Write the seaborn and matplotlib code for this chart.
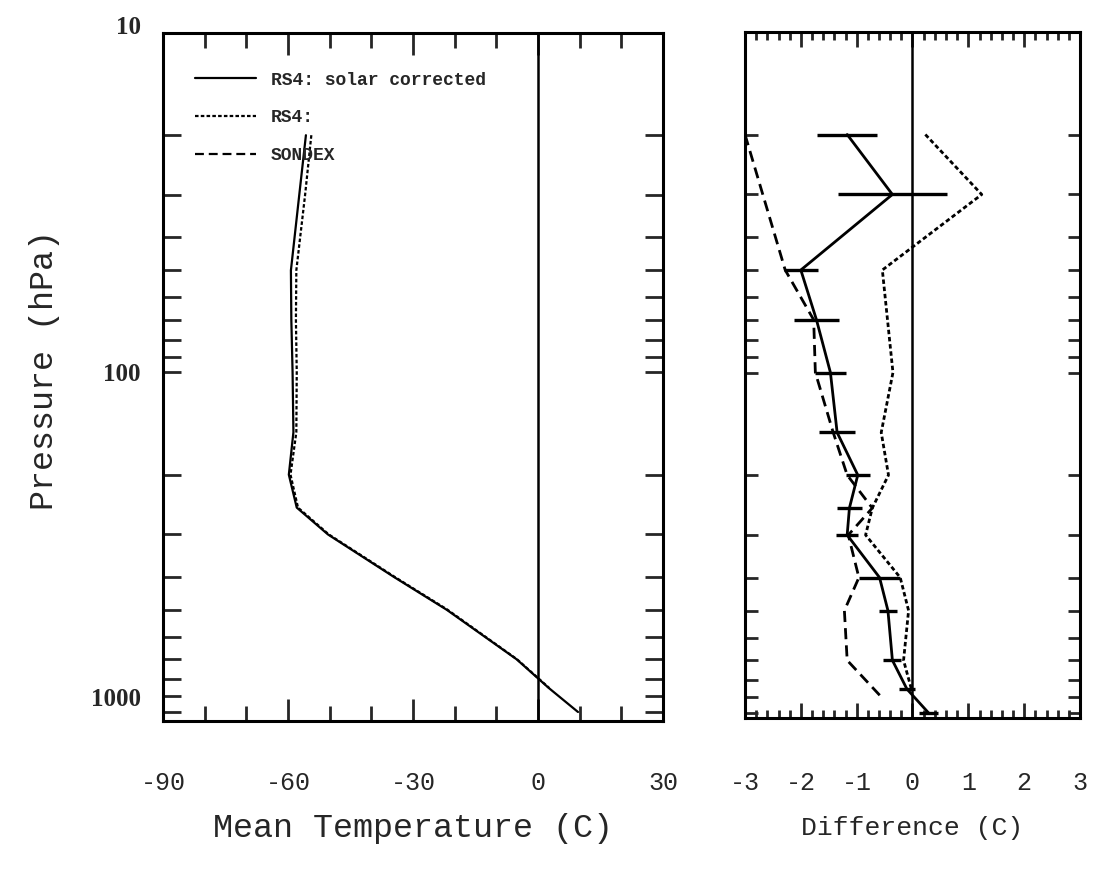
import numpy as np
import pandas as pd
import matplotlib
matplotlib.use("Agg")
import matplotlib.pyplot as plt
import seaborn as sns
from matplotlib import font_manager as fm
from matplotlib.lines import Line2D
from matplotlib.ticker import FixedLocator, NullFormatter
import matplotlib.transforms as mtransforms

# ---------------- data ----------------
# Left panel: mean temperature profiles (C) vs pressure (hPa)
p_temp = [20, 30, 50, 70, 100, 150, 200, 250, 300, 400, 500, 700, 850, 1000]
t_rs4_corr = [-55.7, -57.3, -59.3, -59.2, -58.9, -58.7, -59.8, -57.9, -50.4, -34.6, -21.9, -5.1, 2.6, 9.6]
p_temp_rs4 = [20, 30, 50, 70, 100, 150, 200, 250, 300, 400, 500, 700, 850]
t_rs4 = [-54.4, -55.9, -58.0, -58.1, -57.9, -58.0, -59.4, -57.6, -50.2, -34.4, -21.7, -5.0, 2.7]

# Right panel: differences (C)
p_diff_corr = [20, 30, 50, 70, 100, 150, 200, 250, 300, 400, 500, 700, 850, 1000]
d_rs4_corr = [-1.17, -0.36, -2.00, -1.72, -1.47, -1.35, -0.98, -1.13, -1.17, -0.59, -0.44, -0.36, -0.10, 0.29]
err_rs4_corr = [0.54, 0.98, 0.31, 0.40, 0.27, 0.32, 0.22, 0.23, 0.20, 0.37, 0.16, 0.16, 0.14, 0.17]

p_diff_rs4 = [20, 30, 50, 100, 150, 200, 250, 300, 400, 500, 700, 850]
d_rs4 = [0.23, 1.24, -0.54, -0.35, -0.56, -0.43, -0.72, -0.84, -0.22, -0.07, -0.16, -0.02]

p_diff_sondex = [20, 50, 70, 100, 150, 200, 250, 300, 400, 500, 700, 900]
d_sondex = [-3.00, -2.28, -1.77, -1.74, -1.42, -1.17, -0.72, -1.15, -0.96, -1.22, -1.17, -0.55]

legend_labels = ["RS4: solar corrected", "RS4:", "SONDEX"]
temp_ticks = [-90, -60, -30, 0, 30]
diff_ticks = [-3, -2, -1, 0, 1, 2, 3]
p_major = [10, 100, 1000]
p_minor = [20, 30, 40, 50, 60, 70, 80, 90, 200, 300, 400, 500, 600, 700, 800, 900]

# ---------------- fonts ----------------
avail = {f.name for f in fm.fontManager.ttflist}
def pick(*names):
    for n in names:
        if n in avail:
            return n
    return "DejaVu Sans"

MONO = pick("Liberation Mono", "DejaVu Sans Mono")
SERIF = pick("Liberation Serif", "DejaVu Serif")
NARROW = pick("Liberation Sans Narrow", "Liberation Mono", "DejaVu Sans Mono")

sns.set_style("white")
plt.rcParams["font.family"] = [SERIF, "DejaVu Sans"]

SOLID = "-"
DOTTED = (0, (1.6, 1.0))
DASHED = (0, (4.0, 2.2))

fig = plt.figure(figsize=(11.01, 8.76), dpi=100)
ax1 = fig.add_axes([163 / 1101, 1 - 721 / 876, 500 / 1101, 688 / 876])
ax2 = fig.add_axes([745 / 1101, 1 - 718 / 876, 335 / 1101, 686 / 876])

for ax in (ax1, ax2):
    ax.set_yscale("log")

df_left = pd.DataFrame({"T": t_rs4_corr, "p": p_temp})
df_left2 = pd.DataFrame({"T": t_rs4, "p": p_temp_rs4})
sns.lineplot(data=df_left, x="T", y="p", sort=False, estimator=None,
             color="black", lw=1.6, ax=ax1)
sns.lineplot(data=df_left2, x="T", y="p", sort=False, estimator=None,
             color="black", lw=1.6, linestyle=DOTTED, ax=ax1)

df_c = pd.DataFrame({"d": d_rs4_corr, "p": p_diff_corr, "e": err_rs4_corr})
df_r = pd.DataFrame({"d": d_rs4, "p": p_diff_rs4})
df_s = pd.DataFrame({"d": d_sondex, "p": p_diff_sondex})
sns.lineplot(data=df_c, x="d", y="p", sort=False, estimator=None,
             color="black", lw=2.0, ax=ax2)
ax2.errorbar(df_c["d"], df_c["p"], xerr=df_c["e"], fmt="none",
             ecolor="black", elinewidth=2.4, capsize=0)
sns.lineplot(data=df_r, x="d", y="p", sort=False, estimator=None,
             color="black", lw=2.0, linestyle=DOTTED, ax=ax2)
sns.lineplot(data=df_s, x="d", y="p", sort=False, estimator=None,
             color="black", lw=2.0, linestyle=DASHED, ax=ax2)

for ax in (ax1, ax2):
    ax.axvline(0, color="black", lw=1.8, zorder=1)

ax1.set_xlim(-90, 30)
ax1.set_ylim(1063, 10)
ax2.set_xlim(-3, 3)
ax2.set_ylim(1034, 10)

# ticks
for ax in (ax1, ax2):
    ax.yaxis.set_major_locator(FixedLocator(p_major))
    ax.yaxis.set_minor_locator(FixedLocator(p_minor))
    ax.yaxis.set_minor_formatter(NullFormatter())
    for s in ax.spines.values():
        s.set_linewidth(2.2)
        s.set_color("black")
        s.set_visible(True)

ax1.set_yticks(p_major, ["10", "100", "1000"])
ax2.set_yticks(p_major, ["", "", ""])

ax1.set_xticks(temp_ticks, [str(v) for v in temp_ticks])
ax1.set_xticks(np.arange(-80, 30, 10), minor=True)
ax2.set_xticks(diff_ticks, [str(v) for v in diff_ticks])
ax2.set_xticks(np.arange(-3, 3.001, 0.2), minor=True)

ax1.tick_params(axis="y", which="both", direction="in", left=True, right=True,
                length=13, width=2, pad=16, labelsize=18)
ax2.tick_params(axis="y", which="both", direction="in", left=True, right=True,
                length=9, width=2, labelleft=False)
ax1.tick_params(axis="x", which="major", direction="in", top=True, bottom=True,
                length=16, width=2, pad=36, labelsize=18)
ax1.tick_params(axis="x", which="minor", direction="in", top=True, bottom=True,
                length=11, width=2)
ax2.tick_params(axis="x", which="major", direction="in", top=True, bottom=True,
                length=11, width=2, pad=38, labelsize=18)
ax2.tick_params(axis="x", which="minor", direction="in", top=True, bottom=True,
                length=6, width=2)

for lbl in ax1.get_yticklabels():
    lbl.set_fontfamily(SERIF)
    lbl.set_fontweight("bold")
for ax in (ax1, ax2):
    for lbl in ax.get_xticklabels():
        lbl.set_fontfamily(NARROW)

# nudge 10 and 1000 labels upward as in the reference
ticks = ax1.yaxis.get_major_ticks()
offs = {0: 6 / 72, 2: 11 / 72}
for i, dy in offs.items():
    t = ticks[i].label1
    t.set_transform(t.get_transform() + mtransforms.ScaledTranslation(0, dy, fig.dpi_scale_trans))

# axis labels
ax1.set_xlabel("Mean Temperature (C)", fontfamily=MONO, fontsize=24, va="center")
ax1.xaxis.set_label_coords(0.5, -0.156)
ax2.set_xlabel("Difference (C)", fontfamily=MONO, fontsize=19, va="center")
ax2.xaxis.set_label_coords(0.5, -0.16)
ax1.set_ylabel("Pressure (hPa)", fontfamily=MONO, fontsize=24, va="center")
ax1.yaxis.set_label_coords(-0.236, 0.51)
ax2.set_ylabel("")

# legend
handles = [Line2D([], [], color="black", lw=1.6, linestyle=SOLID),
           Line2D([], [], color="black", lw=1.6, linestyle=DOTTED),
           Line2D([], [], color="black", lw=1.6, linestyle=DASHED)]
leg = ax1.legend(handles, legend_labels, loc="upper left",
                 bbox_to_anchor=(0.064, 0.944), frameon=False,
                 prop={"family": MONO, "weight": "bold", "size": 13},
                 handlelength=3.4, handletextpad=0.8, labelspacing=1.15,
                 borderpad=0, borderaxespad=0)

fig.savefig("out.png", dpi=100, facecolor="white")
